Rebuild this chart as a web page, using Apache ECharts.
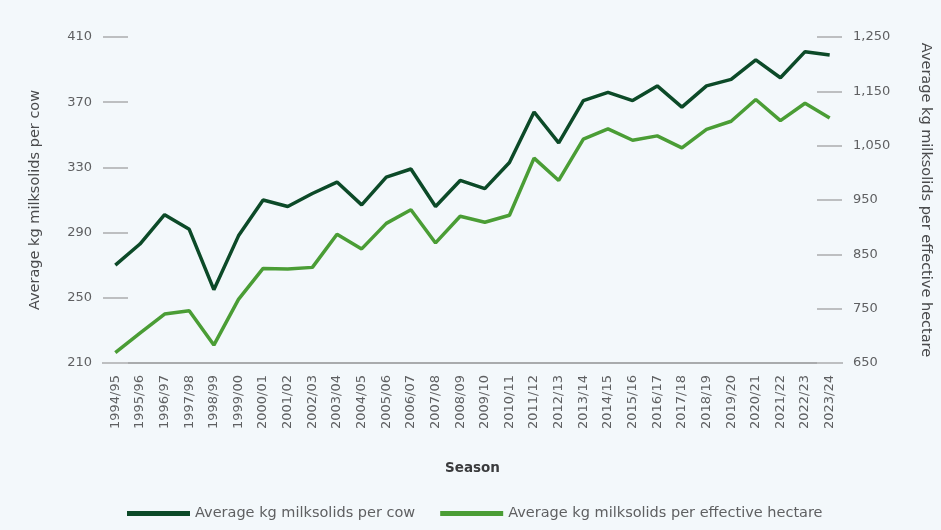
<!DOCTYPE html>
<html>
<head>
<meta charset="utf-8">
<script src="https://cdn.jsdelivr.net/npm/echarts@6/dist/echarts.min.js"></script>
<style>
  html, body { margin: 0; padding: 0; background: #f3f8fb; }
  #chart { width: 941px; height: 530px; }
</style>
</head>
<body>
<div id="chart"></div>
<script>
// Dairy seasons on the category axis
const seasons = [
  '1994/95', '1995/96', '1996/97', '1997/98', '1998/99', '1999/00',
  '2000/01', '2001/02', '2002/03', '2003/04', '2004/05', '2005/06',
  '2006/07', '2007/08', '2008/09', '2009/10', '2010/11', '2011/12',
  '2012/13', '2013/14', '2014/15', '2015/16', '2016/17', '2017/18',
  '2018/19', '2019/20', '2020/21', '2021/22', '2022/23', '2023/24'
];

// Average kg milksolids per cow (left axis)
const perCow = [
  270, 283, 301, 292, 255, 288,
  310, 306, 314, 321, 307, 324,
  329, 306, 322, 317, 333, 364,
  345, 371, 376, 371, 380, 367,
  380, 384, 396, 385, 401, 399
];

// Average kg milksolids per effective hectare (right axis)
const perHectare = [
  669, 705, 740, 746, 683, 767,
  824, 823, 826, 887, 860, 907,
  932, 871, 920, 909, 922, 1027,
  986, 1062, 1081, 1060, 1068, 1046,
  1080, 1095, 1135, 1096, 1128, 1101
];

// Axis ranges and tick spacing
const cowTicks = { min: 210, max: 410, step: 40 };
const haTicks = { min: 650, max: 1250, step: 100 };

const FONT = '"DejaVu Sans", sans-serif';
const TICK_COLOR = '#bdbfc1';
const LABEL_COLOR = '#5f6062';

const chart = echarts.init(document.getElementById('chart'), null, { renderer: 'canvas' });

const yAxisBase = {
  type: 'value',
  nameLocation: 'middle',
  nameTextStyle: { color: '#4a4b4d', fontSize: 14.5, fontFamily: FONT },
  splitLine: { show: false },
  axisLine: { show: false },
  axisTick: { show: true, inside: true, length: 25, lineStyle: { color: TICK_COLOR, width: 2 } },
  axisLabel: { color: LABEL_COLOR, fontSize: 13, fontFamily: FONT, margin: 11 }
};

chart.setOption({
  backgroundColor: '#f3f8fb',
  animation: false,
  grid: { left: 103, right: 94, top: 37, bottom: 167, containLabel: false },
  legend: {
    left: 122,
    top: 501,
    itemGap: 25,
    itemWidth: 63,
    itemHeight: 5,
    icon: 'rect',
    textStyle: { color: LABEL_COLOR, fontSize: 14.5, fontFamily: FONT },
    data: ['Average kg milksolids per cow', 'Average kg milksolids per effective hectare']
  },
  xAxis: {
    type: 'category',
    data: seasons,
    boundaryGap: true,
    name: 'Season',
    nameLocation: 'middle',
    nameGap: 98,
    nameTextStyle: { color: '#3a3b3d', fontSize: 13.5, fontWeight: 'bold', fontFamily: FONT },
    axisLine: { show: true, lineStyle: { color: '#a9abad', width: 2 } },
    axisTick: { show: false },
    axisLabel: { rotate: 90, color: LABEL_COLOR, fontSize: 13, fontFamily: FONT, margin: 12, interval: 0 }
  },
  yAxis: [
    Object.assign({}, yAxisBase, {
      position: 'left',
      name: 'Average kg milksolids per cow',
      nameGap: 60,
      min: cowTicks.min,
      max: cowTicks.max,
      interval: cowTicks.step
    }),
    Object.assign({}, yAxisBase, {
      position: 'right',
      name: 'Average kg milksolids per effective hectare',
      nameGap: 76,
      nameRotate: -90,
      min: haTicks.min,
      max: haTicks.max,
      interval: haTicks.step,
      axisLabel: Object.assign({}, yAxisBase.axisLabel, {
        formatter: v => v.toLocaleString('en-US')
      })
    })
  ],
  series: [
    {
      name: 'Average kg milksolids per cow',
      type: 'line',
      yAxisIndex: 0,
      data: perCow,
      showSymbol: false,
      symbol: 'none',
      lineStyle: { color: '#0c4a28', width: 3.5 },
      itemStyle: { color: '#0c4a28' }
    },
    {
      name: 'Average kg milksolids per effective hectare',
      type: 'line',
      yAxisIndex: 1,
      data: perHectare,
      showSymbol: false,
      symbol: 'none',
      lineStyle: { color: '#4a9d35', width: 3.5 },
      itemStyle: { color: '#4a9d35' }
    }
  ]
});
</script>
</body>
</html>
